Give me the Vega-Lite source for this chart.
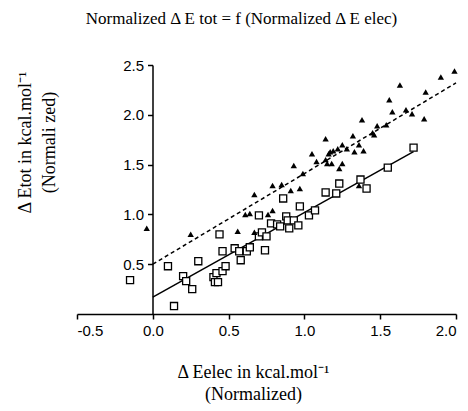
{
  "$schema": "https://vega.github.io/schema/vega-lite/v6.json",
  "width": 379,
  "height": 249,
  "autosize": {"type": "none"},
  "padding": {"left": 77, "top": 65, "right": 12, "bottom": 97},
  "background": "white",
  "title": {
    "text": "Normalized Δ E tot = f (Normalized Δ E elec)",
    "font": "Liberation Serif",
    "fontSize": 17,
    "fontWeight": "normal",
    "color": "black",
    "anchor": "middle",
    "dx": -25,
    "offset": 30
  },
  "config": {
    "view": {"stroke": null},
    "axis": {
      "grid": false,
      "domainColor": "black",
      "tickColor": "black",
      "labelColor": "black",
      "titleColor": "black",
      "domainWidth": 1.5,
      "tickWidth": 1.5,
      "labelFont": "Liberation Sans",
      "labelFontSize": 15,
      "titleFont": "Liberation Serif",
      "titleFontSize": 18,
      "titleFontWeight": "normal"
    }
  },
  "datasets": {
    "pts": [
      {"x": -0.04, "y": 0.86, "series": "tri"},
      {"x": 0.25, "y": 0.80, "series": "tri"},
      {"x": 0.56, "y": 0.83, "series": "tri"},
      {"x": 0.61, "y": 1.00, "series": "tri"},
      {"x": 0.64, "y": 1.01, "series": "tri"},
      {"x": 0.67, "y": 0.82, "series": "tri"},
      {"x": 0.67, "y": 1.20, "series": "tri"},
      {"x": 0.76, "y": 1.00, "series": "tri"},
      {"x": 0.79, "y": 1.04, "series": "tri"},
      {"x": 0.79, "y": 1.29, "series": "tri"},
      {"x": 0.85, "y": 1.30, "series": "tri"},
      {"x": 0.91, "y": 1.24, "series": "tri"},
      {"x": 0.97, "y": 1.26, "series": "tri"},
      {"x": 0.93, "y": 1.49, "series": "tri"},
      {"x": 0.99, "y": 1.41, "series": "tri"},
      {"x": 1.05, "y": 1.61, "series": "tri"},
      {"x": 1.08, "y": 1.53, "series": "tri"},
      {"x": 1.14, "y": 1.55, "series": "tri"},
      {"x": 1.15, "y": 1.51, "series": "tri"},
      {"x": 1.18, "y": 1.51, "series": "tri"},
      {"x": 1.14, "y": 1.76, "series": "tri"},
      {"x": 1.16, "y": 1.61, "series": "tri"},
      {"x": 1.17, "y": 1.63, "series": "tri"},
      {"x": 1.19, "y": 1.64, "series": "tri"},
      {"x": 1.22, "y": 1.66, "series": "tri"},
      {"x": 1.23, "y": 1.46, "series": "tri"},
      {"x": 1.25, "y": 1.70, "series": "tri"},
      {"x": 1.25, "y": 1.51, "series": "tri"},
      {"x": 1.28, "y": 1.66, "series": "tri"},
      {"x": 1.32, "y": 1.79, "series": "tri"},
      {"x": 1.33, "y": 1.63, "series": "tri"},
      {"x": 1.36, "y": 1.70, "series": "tri"},
      {"x": 1.36, "y": 1.29, "series": "tri"},
      {"x": 1.38, "y": 1.95, "series": "tri"},
      {"x": 1.39, "y": 1.64, "series": "tri"},
      {"x": 1.45, "y": 1.82, "series": "tri"},
      {"x": 1.46, "y": 1.80, "series": "tri"},
      {"x": 1.48, "y": 1.89, "series": "tri"},
      {"x": 1.54, "y": 1.90, "series": "tri"},
      {"x": 1.56, "y": 2.15, "series": "tri"},
      {"x": 1.58, "y": 2.03, "series": "tri"},
      {"x": 1.63, "y": 2.30, "series": "tri"},
      {"x": 1.67, "y": 2.05, "series": "tri"},
      {"x": 1.71, "y": 2.01, "series": "tri"},
      {"x": 1.79, "y": 1.96, "series": "tri"},
      {"x": 1.80, "y": 2.23, "series": "tri"},
      {"x": 1.90, "y": 2.38, "series": "tri"},
      {"x": 1.99, "y": 2.44, "series": "tri"},
      {"x": -0.15, "y": 0.34, "series": "sq"},
      {"x": 0.10, "y": 0.48, "series": "sq"},
      {"x": 0.14, "y": 0.08, "series": "sq"},
      {"x": 0.20, "y": 0.38, "series": "sq"},
      {"x": 0.22, "y": 0.33, "series": "sq"},
      {"x": 0.26, "y": 0.25, "series": "sq"},
      {"x": 0.30, "y": 0.53, "series": "sq"},
      {"x": 0.40, "y": 0.37, "series": "sq"},
      {"x": 0.41, "y": 0.32, "series": "sq"},
      {"x": 0.43, "y": 0.32, "series": "sq"},
      {"x": 0.42, "y": 0.41, "series": "sq"},
      {"x": 0.44, "y": 0.80, "series": "sq"},
      {"x": 0.46, "y": 0.43, "series": "sq"},
      {"x": 0.46, "y": 0.63, "series": "sq"},
      {"x": 0.48, "y": 0.48, "series": "sq"},
      {"x": 0.54, "y": 0.66, "series": "sq"},
      {"x": 0.57, "y": 0.63, "series": "sq"},
      {"x": 0.58, "y": 0.54, "series": "sq"},
      {"x": 0.62, "y": 0.63, "series": "sq"},
      {"x": 0.64, "y": 0.67, "series": "sq"},
      {"x": 0.70, "y": 0.99, "series": "sq"},
      {"x": 0.70, "y": 0.78, "series": "sq"},
      {"x": 0.72, "y": 0.82, "series": "sq"},
      {"x": 0.74, "y": 0.64, "series": "sq"},
      {"x": 0.75, "y": 0.78, "series": "sq"},
      {"x": 0.78, "y": 0.91, "series": "sq"},
      {"x": 0.82, "y": 0.90, "series": "sq"},
      {"x": 0.84, "y": 0.88, "series": "sq"},
      {"x": 0.86, "y": 1.16, "series": "sq"},
      {"x": 0.88, "y": 0.98, "series": "sq"},
      {"x": 0.89, "y": 0.94, "series": "sq"},
      {"x": 0.90, "y": 0.86, "series": "sq"},
      {"x": 0.93, "y": 0.94, "series": "sq"},
      {"x": 0.96, "y": 0.89, "series": "sq"},
      {"x": 0.97, "y": 1.08, "series": "sq"},
      {"x": 1.03, "y": 0.99, "series": "sq"},
      {"x": 1.07, "y": 1.04, "series": "sq"},
      {"x": 1.14, "y": 1.22, "series": "sq"},
      {"x": 1.21, "y": 1.21, "series": "sq"},
      {"x": 1.23, "y": 1.31, "series": "sq"},
      {"x": 1.37, "y": 1.35, "series": "sq"},
      {"x": 1.41, "y": 1.26, "series": "sq"},
      {"x": 1.55, "y": 1.47, "series": "sq"},
      {"x": 1.72, "y": 1.67, "series": "sq"}
    ],
    "fits": [
      {"x": 0.0, "y": 0.17, "fit": "sq"},
      {"x": 1.72, "y": 1.63, "fit": "sq"},
      {"x": 0.0, "y": 0.50, "fit": "tri"},
      {"x": 2.0, "y": 2.32, "fit": "tri"}
    ]
  },
  "encoding": {
    "x": {
      "field": "x",
      "type": "quantitative",
      "scale": {"domain": [-0.5, 2.0], "nice": false, "zero": false},
      "axis": {
        "values": [-0.5, 0, 0.5, 1, 1.5, 2],
        "labelExpr": "datum.value < 0 ? '-' + format(-datum.value, '.1f') : format(datum.value, '.1f')",
        "tickSize": 5,
        "labelPadding": 4,
        "title": ["Δ Eelec in kcal.mol⁻¹", "(Normalized)"],
        "titleX": 176,
        "titleY": 58,
        "titleBaseline": "middle",
        "titleAnchor": null,
        "titleAlign": "center",
        "titleLineHeight": 22
      }
    },
    "y": {
      "field": "y",
      "type": "quantitative",
      "scale": {"domain": [0, 2.5], "nice": false, "zero": false},
      "axis": {
        "values": [0.5, 1, 1.5, 2, 2.5],
        "format": ".1f",
        "offset": -75.5,
        "tickSize": 5,
        "labelPadding": 4,
        "title": ["Δ Etot in kcal.mol⁻¹", "(Normali zed)"],
        "titleX": -127,
        "titleY": 77,
        "titleAngle": -90,
        "titleBaseline": "middle",
        "titleAlign": "center",
        "titleLineHeight": 24
      }
    }
  },
  "layer": [
    {
      "data": {"name": "fits"},
      "transform": [{"filter": "datum.fit === 'sq'"}],
      "mark": {"type": "line", "color": "black", "strokeWidth": 1.5},
      "encoding": {}
    },
    {
      "data": {"name": "fits"},
      "transform": [{"filter": "datum.fit === 'tri'"}],
      "mark": {"type": "line", "color": "black", "strokeWidth": 1.5, "strokeDash": [4, 3]},
      "encoding": {}
    },
    {
      "data": {"name": "pts"},
      "transform": [{"filter": "datum.series === 'sq'"}],
      "mark": {"type": "point", "shape": "square", "filled": false, "fill": "white", "fillOpacity": 1, "stroke": "black", "strokeWidth": 1.3, "size": 50, "opacity": 1},
      "encoding": {}
    },
    {
      "data": {"name": "pts"},
      "transform": [{"filter": "datum.series === 'tri'"}],
      "mark": {"type": "point", "shape": "triangle-up", "filled": true, "color": "black", "size": 40, "opacity": 1},
      "encoding": {}
    }
  ]
}
